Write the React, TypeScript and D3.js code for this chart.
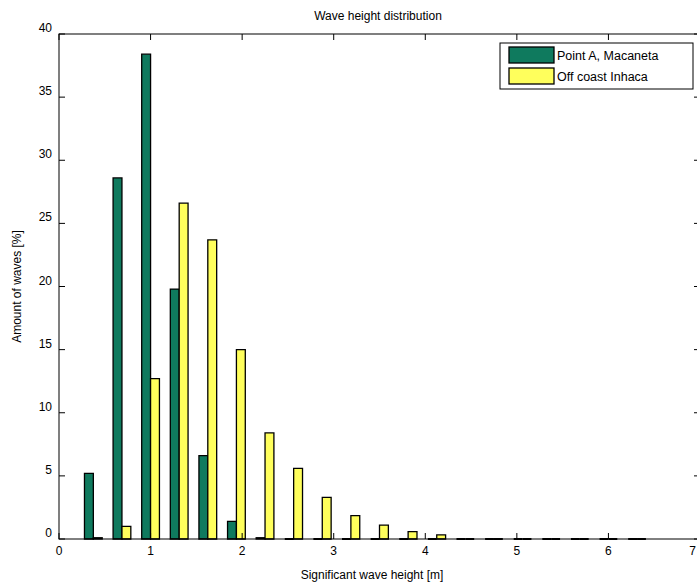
import React, { useEffect, useRef } from 'react';
import * as d3 from 'd3';

// bin centres of the histogram (m)
const binCenters = [0.375, 0.6875, 1.0, 1.3125, 1.625, 1.9375, 2.25, 2.5625, 2.875, 3.1875,
  3.5, 3.8125, 4.125, 4.4375, 4.75, 5.0625, 5.375, 5.6875, 6.0, 6.3125];
const macaneta = [5.2, 28.6, 38.4, 19.8, 6.6, 1.4, 0.1, 0, 0, 0, 0, 0, 0, 0, 0, 0, 0, 0, 0, 0];
const inhaca = [0.1, 1.0, 12.7, 26.6, 23.7, 15.0, 8.4, 5.6, 3.3, 1.85, 1.1, 0.58, 0.32, 0, 0, 0, 0, 0, 0, 0];
const seriesNames = ['Point A, Macaneta', 'Off coast Inhaca'];
const seriesColors = ['#0f7a5e', '#ffff5c'];
const xTicks = [0, 1, 2, 3, 4, 5, 6, 7];
const yTicks = [0, 5, 10, 15, 20, 25, 30, 35, 40];

const width = 697;
const height = 583;

const App = () => {
  const svgRef = useRef<SVGSVGElement>(null);

  useEffect(() => {
    if (!svgRef.current) return;
    const svg = d3.select(svgRef.current);
    svg.selectAll('*').remove();

    const margin = { top: 34, right: -3, bottom: 44, left: 59 };
    const x0 = margin.left;
    const x1 = width - margin.right;
    const y0 = height - margin.bottom;
    const y1 = margin.top;
    const font = 'Arial, "Liberation Sans", sans-serif';

    const x = d3.scaleLinear().domain([0, 7]).range([x0, x1]);
    const y = d3.scaleLinear().domain([0, 40]).range([y0, y1]);

    // bar width: roughly a third of a bin, two series side by side
    const binW = x(0.3125) - x(0);
    const barW = binW * 0.31;

    const series = [macaneta, inhaca];
    series.forEach((vals, s) => {
      svg.append('g')
        .selectAll('path')
        .data(vals.map((v, i) => ({ v, c: binCenters[i] })))
        .enter()
        .append('path')
        .attr('d', d => {
          const left = s === 0 ? x(d.c) - barW : x(d.c);
          const right = left + barW;
          return `M${left},${y(0)}V${y(d.v)}H${right}V${y(0)}Z`;
        })
        .attr('fill', seriesColors[s])
        .attr('stroke', '#000')
        .attr('stroke-width', d => (d.v === 0 ? 2 : 1.3));
    });

    // axes box
    svg.append('rect')
      .attr('x', x0).attr('y', y1)
      .attr('width', x1 - x0).attr('height', y0 - y1)
      .attr('fill', 'none').attr('stroke', '#000').attr('stroke-width', 1);

    const tickLen = 6;
    // x ticks (bottom and top, pointing in)
    xTicks.forEach(t => {
      svg.append('line').attr('x1', x(t)).attr('x2', x(t)).attr('y1', y0).attr('y2', y0 - tickLen).attr('stroke', '#000');
      svg.append('line').attr('x1', x(t)).attr('x2', x(t)).attr('y1', y1).attr('y2', y1 + tickLen).attr('stroke', '#000');
      const last = x(t) + 4 > width;
      svg.append('text')
        .attr('x', last ? width - 1 : x(t)).attr('y', y0 + 16)
        .attr('text-anchor', last ? 'end' : 'middle')
        .attr('font-family', font).attr('font-size', 12)
        .text(t);
    });
    // y ticks (left and right, pointing in)
    yTicks.forEach(t => {
      svg.append('line').attr('x1', x0).attr('x2', x0 + tickLen).attr('y1', y(t)).attr('y2', y(t)).attr('stroke', '#000');
      svg.append('line').attr('x1', x1).attr('x2', x1 - tickLen).attr('y1', y(t)).attr('y2', y(t)).attr('stroke', '#000');
      svg.append('text')
        .attr('x', x0 - 7).attr('y', y(t) - 2)
        .attr('text-anchor', 'end')
        .attr('font-family', font).attr('font-size', 12)
        .text(t);
    });

    // title and labels
    svg.append('text')
      .attr('x', 378).attr('y', 20)
      .attr('text-anchor', 'middle')
      .attr('font-family', font).attr('font-size', 12)
      .text('Wave height distribution');
    svg.append('text')
      .attr('x', 372).attr('y', 579)
      .attr('text-anchor', 'middle')
      .attr('font-family', font).attr('font-size', 12)
      .text('Significant wave height [m]');
    svg.append('text')
      .attr('transform', `translate(21,${(y0 + y1) / 2}) rotate(-90)`)
      .attr('text-anchor', 'middle')
      .attr('font-family', font).attr('font-size', 12)
      .text('Amount of waves [%]');

    // legend
    const legend = svg.append('g').attr('transform', 'translate(500,43)');
    legend.append('rect')
      .attr('width', 193).attr('height', 46)
      .attr('fill', '#fff').attr('stroke', '#000');
    seriesNames.forEach((name, i) => {
      legend.append('rect')
        .attr('x', 9).attr('y', 4 + i * 21)
        .attr('width', 45).attr('height', 16)
        .attr('fill', seriesColors[i]).attr('stroke', '#000').attr('stroke-width', 1.3);
      legend.append('text')
        .attr('x', 57).attr('y', 17 + i * 21)
        .attr('font-family', font).attr('font-size', 12.5)
        .text(name);
    });
  }, []);

  return (
    <svg ref={svgRef} width={width} height={height}
      style={{ position: 'absolute', left: 0, top: 0, background: '#fff' }} />
  );
};

export default App;
